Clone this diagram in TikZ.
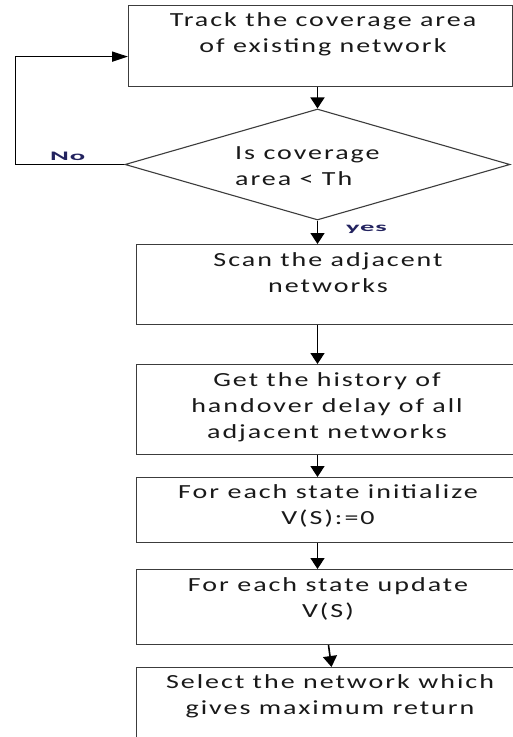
\documentclass[tikz,border=0pt]{standalone}
\usepackage{fontspec}
\usetikzlibrary{shapes.geometric,arrows.meta,calc}
\newfontfamily\boxfont[FakeStretch=1.4,LetterSpace=10]{Carlito}
\newfontfamily\labfont[FakeStretch=2.2,LetterSpace=6]{Carlito}
\definecolor{boxgray}{RGB}{60,60,60}
\definecolor{txtcol}{RGB}{25,25,25}
\definecolor{labcol}{RGB}{35,35,95}
\tikzset{
  stepbox/.style={draw=boxgray,line width=1.2pt,fill=none,inner sep=0pt,anchor=north west,minimum width=424pt},
  decision/.style={diamond,draw=boxgray,line width=1.1pt,inner sep=0pt,minimum width=385pt,minimum height=111pt},
  boxtext/.style={text=txtcol,font=\boxfont\fontsize{20pt}{26pt}\selectfont,align=center,inner sep=0pt,anchor=north,execute at begin node={\rule{0pt}{16pt}}},
  lab/.style={text=labcol,font=\labfont\bfseries\fontsize{13pt}{15pt}\selectfont,inner sep=0pt,anchor=base west},
  varr/.style={draw=black,line width=1.6pt,-{Triangle[length=11pt,width=14pt]}},
  harr/.style={draw=black,line width=1.6pt,-{Triangle[length=16pt,width=10pt]}}
}
\begin{document}
\begin{tikzpicture}[x=1pt,y=-1pt]
\useasboundingbox (0,0) rectangle (513,737);
\clip (0,0) rectangle (513,737);
\fill[white] (0,0) rectangle (513,737);
% boxes
\node[stepbox,minimum width=384pt,minimum height=81pt] (b1) at (128,5) {};
\node[decision] (d) at (317.5,164.5) {};
\node[stepbox,minimum height=80pt] (b2) at (136,244) {};
\node[stepbox,minimum height=90pt] (b3) at (136,364) {};
\node[stepbox,minimum height=65pt] (b4) at (136,477) {};
\node[stepbox,minimum height=75pt] (b5) at (136,569) {};
\node[stepbox,minimum height=100pt] (b6) at (136,667) {};
% texts
\node[boxtext] (t1) at (323,12) {Track the coverage area\\of existing network};
\node[boxtext,align=left,anchor=north west] (td) at (235,146) {Is coverage\\area < Th};
\node[boxtext] (t2) at (328,252) {Scan the adjacent\\networks};
\node[boxtext] (t3) at (327,372) {Get the history of\\handover delay of all\\adjacent networks};
\node[boxtext] (t4) at (328,484) {For each state initialize\\V(S):=0};
\node[boxtext] (t5) at (328,577) {For each state update\\V(S)};
\node[boxtext] (t6) at (330,674) {Select the network which\\gives maximum return};
% labels
\node[lab] (lno) at (50,160) {No};
\node[lab] (lyes) at (346,231) {yes};
% connectors
\draw[varr] (d.north |- b1.south) -- (d.north);
\draw[varr] (d.south) -- (d.south |- b2.north);
\draw[varr] (d.south |- b2.south) -- (d.south |- b3.north);
\draw[varr] (d.south |- b3.south) -- (d.south |- b4.north);
\draw[varr] (d.south |- b4.south) -- (d.south |- b5.north);
\draw[varr] ($(d.south |- b5.south)+(11,0)$) -- ($(d.south |- b6.north)+(14,0)$);
\draw[harr] (d.west) -- ++(-109,0) |- ([yshift=-10.5pt]b1.west);
\end{tikzpicture}
\end{document}
